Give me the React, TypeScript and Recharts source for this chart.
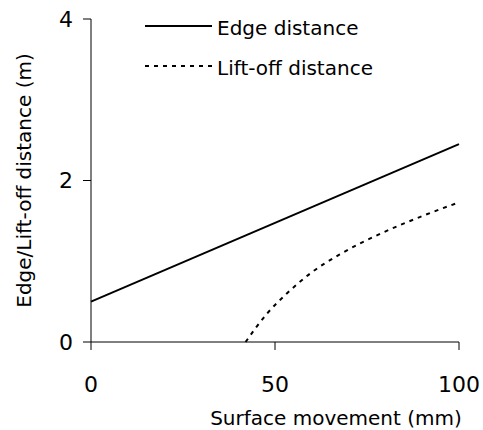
import { Label, Legend, Line, LineChart, XAxis, YAxis } from "recharts";

const edgeMovement = [0, 100];
const edgeDistance = [0.5, 2.45];
const liftMovement = [42, 47.8, 53.2, 59.6, 67.8, 78.6, 89.5, 100];
const liftDistance = [0, 0.35, 0.6, 0.85, 1.09, 1.34, 1.55, 1.73];
const seriesNames = ["Edge distance", "Lift-off distance"];
const xTicks = [0, 50, 100];
const yTicks = [0, 2, 4];

const edgeData = edgeMovement.map((x, i) => ({ x, y: edgeDistance[i] }));
const liftData = liftMovement.map((x, i) => ({ x, y: liftDistance[i] }));

const font = "'DejaVu Sans', Verdana, sans-serif";
const dashes = ["", "4 5"];

// legend drawn by hand: line sample then label, two rows
function LegendBox() {
  return (
    <svg width={300} height={90} style={{ fontFamily: font, display: "block" }}>
      {seriesNames.map((name, i) => (
        <g key={name} transform={`translate(0, ${18 + i * 40})`}>
          <line x1={5} x2={72} y1={0} y2={0} stroke="#000" strokeWidth={2} strokeDasharray={dashes[i] || undefined} />
          <text x={77} y={9} fontSize={20} fill="#000">
            {name}
          </text>
        </g>
      ))}
    </svg>
  );
}

export default function App() {
  return (
    <div style={{ position: "absolute", left: 0, top: 0, fontFamily: font }}>
      <LineChart width={483} height={430} margin={{ top: 19, right: 24, bottom: 5, left: 14 }}>
        <XAxis
          dataKey="x"
          type="number"
          domain={[0, 100]}
          ticks={xTicks}
          height={83}
          tickSize={8}
          tickMargin={26}
          stroke="#000"
          tick={{ fill: "#000", fontSize: 22, fontFamily: font }}
        >
          <Label value="Surface movement (mm)" position="insideBottom" offset={0} dx={61} fill="#000" fontSize={20} fontFamily={font} />
        </XAxis>
        <YAxis
          type="number"
          domain={[0, 4]}
          ticks={yTicks}
          width={77}
          tickSize={8}
          tickMargin={10}
          stroke="#000"
          tick={{ fill: "#000", fontSize: 22, fontFamily: font }}
        >
          <Label
            value="Edge/Lift-off distance (m)"
            angle={-90}
            position="insideLeft"
            offset={10}
            fill="#000"
            fontSize={20}
            fontFamily={font}
            style={{ textAnchor: "middle" }}
          />
        </YAxis>
        <Legend
          content={<LegendBox />}
          layout="horizontal"
          verticalAlign="middle"
          align="center"
          wrapperStyle={{ top: 8, left: 140, width: 300, height: 90 }}
        />
        <Line
          data={edgeData}
          dataKey="y"
          name={seriesNames[0]}
          type="linear"
          stroke="#000"
          strokeWidth={2}
          dot={false}
          isAnimationActive={false}
        />
        <Line
          data={liftData}
          dataKey="y"
          name={seriesNames[1]}
          type="monotone"
          stroke="#000"
          strokeWidth={2}
          strokeDasharray="4 5"
          dot={false}
          isAnimationActive={false}
        />
      </LineChart>
    </div>
  );
}
